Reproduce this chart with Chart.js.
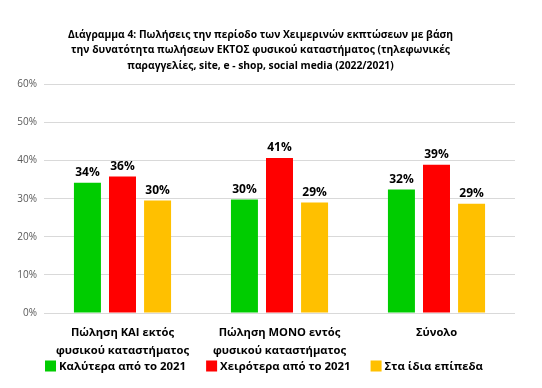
<!DOCTYPE html>
<html>
<head>
<meta charset="utf-8">
<script src="https://cdn.jsdelivr.net/npm/chart.js@4"></script>
<style>
  html, body { margin: 0; padding: 0; background: #fff; }
  #wrap { width: 542px; height: 388px; }
</style>
</head>
<body>
<div id="wrap"><canvas id="chart" width="542" height="388"></canvas></div>
<script>
const categories = [
    ['Πώληση ΚΑΙ εκτός', 'φυσικού καταστήματος'],
    ['Πώληση ΜΟΝΟ εντός', 'φυσικού καταστήματος'],
    'Σύνολο'
];
const better = [34.2, 29.8, 32.4];
const worse = [35.8, 40.7, 38.9];
const same = [29.5, 29.0, 28.7];
const seriesNames = ['Καλύτερα από το 2021', 'Χειρότερα από το 2021', 'Στα ίδια επίπεδα'];
const yTicks = [0, 10, 20, 30, 40, 50, 60];

const FONT = '"Open Sans", sans-serif';

// simple value labels above the bars
const barLabels = {
    id: 'barLabels',
    afterDatasetsDraw(chart) {
        const ctx = chart.ctx;
        ctx.save();
        ctx.font = 'bold 12px ' + FONT;
        ctx.fillStyle = '#000';
        ctx.textAlign = 'center';
        ctx.textBaseline = 'bottom';
        chart.data.datasets.forEach((ds, i) => {
            chart.getDatasetMeta(i).data.forEach((bar, j) => {
                ctx.fillText(Math.round(ds.data[j]) + '%', bar.x, bar.y - 4);
            });
        });
        ctx.restore();
    }
};

// legend row under the axis labels (the built-in one needs too much height)
const bottomLegend = {
    id: 'bottomLegend',
    afterDraw(chart) {
        const ctx = chart.ctx;
        const box = 11, gap = 3, spacing = 20, y = 366;
        ctx.save();
        ctx.font = 'bold 11.4px ' + FONT;
        ctx.textBaseline = 'middle';
        const items = chart.data.datasets.map(ds => ({
            text: ds.label, color: ds.backgroundColor,
            w: box + gap + ctx.measureText(ds.label).width
        }));
        const total = items.reduce((s, it) => s + it.w, 0) + spacing * (items.length - 1);
        let x = 264 - total / 2;
        items.forEach(it => {
            ctx.fillStyle = it.color;
            ctx.fillRect(x, y - box / 2, box, box);
            ctx.fillStyle = '#000';
            ctx.fillText(it.text, x + box + gap, y + 0.5);
            x += it.w + spacing;
        });
        ctx.restore();
    }
};

new Chart(document.getElementById('chart'), {
    type: 'bar',
    data: {
        labels: categories,
        datasets: [
            { label: seriesNames[0], data: better, backgroundColor: '#00cc00' },
            { label: seriesNames[1], data: worse, backgroundColor: '#ff0000' },
            { label: seriesNames[2], data: same, backgroundColor: '#ffc000' }
        ]
    },
    options: {
        responsive: false,
        animation: false,
        categoryPercentage: 0.67,
        barPercentage: 0.77,
        layout: { padding: { left: 6, right: 27, top: 27, bottom: 27 } },
        plugins: {
            title: {
                display: true,
                text: [
                    'Διάγραμμα 4: Πωλήσεις την περίοδο των Χειμερινών εκπτώσεων με βάση',
                    'την δυνατότητα πωλήσεων ΕΚΤΟΣ φυσικού καταστήματος (τηλεφωνικές',
                    'παραγγελίες, site, e - shop, social media (2022/2021)'
                ],
                color: '#000',
                font: { family: FONT, size: 10.3, weight: 'bold', lineHeight: 1.5 },
                padding: { top: 0, bottom: 11 }
            },
            legend: { display: false },
            tooltip: { enabled: false }
        },
        scales: {
            x: {
                afterFit(axis) { axis.height = 48; },
                grid: { display: false, drawTicks: false },
                border: { display: false },
                ticks: {
                    color: '#000',
                    padding: 11,
                    font: { family: FONT, size: 11.2, weight: 'bold', lineHeight: 1.6 },
                    maxRotation: 0,
                    autoSkip: false
                }
            },
            y: {
                min: yTicks[0],
                max: yTicks[yTicks.length - 1],
                afterBuildTicks(axis) { axis.ticks = yTicks.map(v => ({ value: v })); },
                afterFit(axis) { axis.width = 38; },
                grid: { color: '#d9d9d9', drawTicks: false },
                border: { display: false },
                ticks: {
                    color: '#595959',
                    padding: 7,
                    font: { family: FONT, size: 10 },
                    callback: v => v + '%'
                }
            }
        }
    },
    plugins: [barLabels, bottomLegend]
});
</script>
</body>
</html>
